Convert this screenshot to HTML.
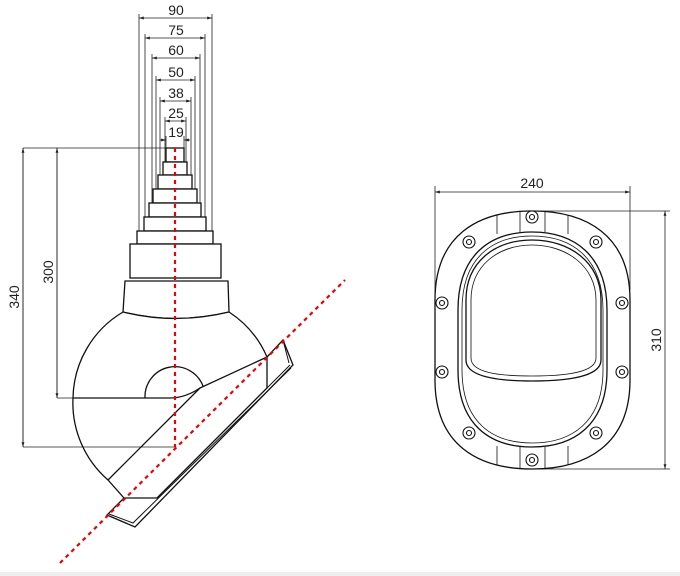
<!DOCTYPE html>
<html><head><style>body{margin:0;background:#fff}svg{display:block}text{font-family:"Liberation Sans",sans-serif;font-size:14px;fill:#222}</style></head>
<body>
<svg width="680" height="576" viewBox="0 0 680 576" xmlns="http://www.w3.org/2000/svg">
<defs><marker id="a" viewBox="0 0 10 10" refX="10" refY="5" markerWidth="6" markerHeight="6" orient="auto-start-reverse"><path d="M0,2L10,5L0,8z" fill="#222"/></marker></defs>
<g stroke="#222" stroke-width="0.8" fill="none">
<g marker-start="url(#a)" marker-end="url(#a)">
<line x1="139" y1="18" x2="212" y2="18"/><line x1="145" y1="38" x2="205" y2="38"/>
<line x1="152" y1="58" x2="200" y2="58"/><line x1="156" y1="80" x2="195" y2="80"/>
<line x1="160" y1="101" x2="191" y2="101"/><line x1="165" y1="121" x2="186" y2="121"/>
</g>
<line x1="160" y1="140" x2="166" y2="140" marker-end="url(#a)"/><line x1="190" y1="140" x2="184" y2="140" marker-end="url(#a)"/>
<path d="M139 14V231M212 14V231M145 34V217M205 34V217M152 54V203M200 54V203M156 76V189M195 76V189M160 97V175M191 97V175M165 117V162M186 117V162M166 136V148M184 136V148"/>
<line x1="23" y1="447" x2="23" y2="148" marker-end="url(#a)"/><line x1="23" y1="148" x2="23" y2="447" marker-end="url(#a)"/>
<line x1="57" y1="398" x2="57" y2="148" marker-end="url(#a)"/><line x1="57" y1="148" x2="57" y2="398" marker-end="url(#a)"/>
<path d="M23 148H166M23 447H175M57 398H73"/>
<line x1="435" y1="192" x2="630" y2="192" marker-start="url(#a)" marker-end="url(#a)"/>
<line x1="665" y1="211" x2="665" y2="469" marker-start="url(#a)" marker-end="url(#a)"/>
<path d="M435 186V300M630 186V290M532 211H670M532 469H670"/>
</g>
<g stroke="#111" stroke-width="1.3" fill="#fff">
<rect x="166" y="148" width="18" height="14"/><rect x="163" y="162" width="24" height="13"/>
<rect x="158" y="175" width="34" height="14"/><rect x="153" y="189" width="44" height="14"/>
<rect x="149" y="203" width="52" height="14"/><rect x="144" y="217" width="62" height="14"/>
<rect x="137" y="231" width="76" height="13"/><rect x="130" y="244" width="91" height="34"/>
<path d="M125 281H228L229 312Q175 325 123 312Z"/>
<path d="M123 312A102 102 0 0 0 73 398H170Q185 398 200 388L267 357A102 102 0 0 0 229 312Q175 325 123 312Z"/>
<path d="M73 398A102 102 0 0 0 108 480L124 498H157L267 388V357" fill="none"/>
<path d="M145 398A30 30 0 0 1 203 386" fill="none"/>
<path d="M200 388L108 480" fill="none"/>
<path d="M267 357L283 340L293 365L135 527L107 515L124 498" fill="none"/>
<path d="M157 498L290 365M283 340L289 363M109 514L133 523L291 368" fill="none" stroke-width="1"/>
</g>
<g stroke="#e00" stroke-width="2.2" stroke-dasharray="4 4" fill="none">
<line x1="175" y1="148" x2="175" y2="447"/><line x1="60" y1="563" x2="345" y2="280"/>
</g>
<g stroke="#111" stroke-width="1.3" fill="none">
<path d="M435 300C435 235 478 211 532 211C586 211 630 235 630 300V380C630 445 586 469 532 469C478 469 435 445 435 380Z" fill="#fff"/>
<path d="M458 310C458 255 490 232 532 232C574 232 607 255 607 310V370C607 425 574 447 532 447C490 447 458 425 458 370Z"/>
<path d="M462 310C462 258 492 236 532 236C572 236 603 258 603 310V370C603 422 572 443 532 443C492 443 462 422 462 370Z" stroke-width="0.8"/>
<path d="M466 300C466 262 495 240 532 240C569 240 601 262 601 300V360C601 376 570 381 532 381C494 381 466 376 466 360Z"/>
<path d="M471 300C471 266 498 245 532 245C566 245 596 266 596 300V358C596 372 568 376 532 376C496 376 471 372 471 358Z" stroke-width="0.8"/>
<path d="M520 211V232M545 211V232M520 447V469M545 447V469M497 215V234M568 215V234M497 446V465M568 446V465" stroke-width="0.8"/>
</g>
<g stroke="#111" stroke-width="1.1" fill="#fff">
<circle cx="532" cy="217" r="6"/><circle cx="469" cy="242" r="6"/><circle cx="596" cy="242" r="6"/>
<circle cx="442" cy="303" r="6"/><circle cx="622" cy="303" r="6"/><circle cx="442" cy="372" r="6"/><circle cx="622" cy="372" r="6"/>
<circle cx="469" cy="433" r="6"/><circle cx="596" cy="433" r="6"/><circle cx="532" cy="460" r="6"/>
<circle cx="532" cy="217" r="2.5"/><circle cx="469" cy="242" r="2.5"/><circle cx="596" cy="242" r="2.5"/>
<circle cx="442" cy="303" r="2.5"/><circle cx="622" cy="303" r="2.5"/><circle cx="442" cy="372" r="2.5"/><circle cx="622" cy="372" r="2.5"/>
<circle cx="469" cy="433" r="2.5"/><circle cx="596" cy="433" r="2.5"/><circle cx="532" cy="460" r="2.5"/>
</g>
<g text-anchor="middle">
<text x="176" y="15">90</text><text x="176" y="35">75</text><text x="176" y="55">60</text>
<text x="176" y="77">50</text><text x="176" y="98">38</text><text x="176" y="118">25</text><text x="176" y="137">19</text>
<text x="532" y="188">240</text>
<text transform="translate(19,297) rotate(-90)">340</text>
<text transform="translate(53,272) rotate(-90)">300</text>
<text transform="translate(661,340) rotate(-90)">310</text>
</g>
<rect x="0" y="572" width="680" height="4" fill="#eee"/>
</svg>
</body></html>
